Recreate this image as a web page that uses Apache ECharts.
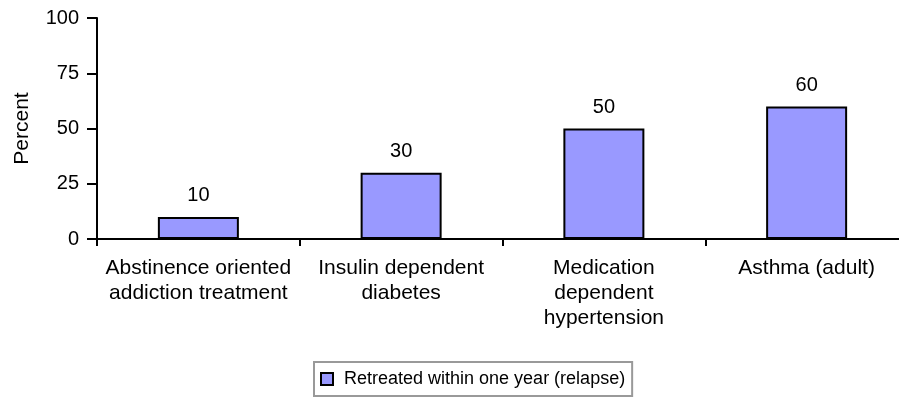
<!DOCTYPE html>
<html>
<head>
<meta charset="utf-8">
<script src="https://cdn.jsdelivr.net/npm/echarts@6/dist/echarts.min.js"></script>
<style>
  html, body { margin: 0; padding: 0; background: #fff; }
  #chart { width: 899px; height: 400px; }
</style>
</head>
<body>
<div id="chart"></div>
<script>
// Treatment categories and the share retreated within one year
const categories = [
  'Abstinence oriented\naddiction treatment',
  'Insulin dependent\ndiabetes',
  'Medication\ndependent\nhypertension',
  'Asthma (adult)'
];
const relapsePercent = [10, 30, 50, 60];
const seriesName = 'Retreated within one year (relapse)';
const yTicks = [0, 25, 50, 75, 100];

const FONT = '"Liberation Sans", Arial, sans-serif';
const chart = echarts.init(document.getElementById('chart'), null, { renderer: 'canvas' });

chart.setOption({
  animation: false,
  backgroundColor: '#ffffff',
  textStyle: { fontFamily: FONT, color: '#000' },
  // the category axis runs a little past the right edge of the canvas
  grid: {
    left: 97, width: 811, top: 18, height: 221,
    containLabel: false,
    outerBoundsMode: 'none'
  },
  legend: {
    data: [seriesName],
    top: 362,
    left: 314,
    padding: [8, 7, 8, 6],
    borderColor: '#999999',
    borderWidth: 2,
    itemWidth: 12,
    itemHeight: 12,
    icon: 'rect',
    textStyle: { fontFamily: FONT, fontSize: 18, color: '#000', padding: [0, 0, 0, 6] }
  },
  xAxis: {
    type: 'category',
    data: categories,
    axisLine: { lineStyle: { color: '#000', width: 2 } },
    axisTick: { show: true, length: 7, lineStyle: { color: '#000', width: 2 } },
    axisLabel: {
      interval: 0,
      margin: 17,
      fontFamily: FONT,
      fontSize: 21,
      lineHeight: 25,
      color: '#000'
    },
    splitLine: { show: false }
  },
  yAxis: {
    type: 'value',
    min: yTicks[0],
    max: yTicks[yTicks.length - 1],
    interval: 25,
    name: 'Percent',
    nameLocation: 'middle',
    nameRotate: 90,
    nameGap: 64,
    nameTextStyle: { fontFamily: FONT, fontSize: 21, color: '#000' },
    axisLine: { show: true, lineStyle: { color: '#000', width: 2 } },
    axisTick: { show: true, length: 10, lineStyle: { color: '#000', width: 2 } },
    axisLabel: { margin: 18, fontFamily: FONT, fontSize: 20, color: '#000' },
    splitLine: { show: false }
  },
  series: [{
    name: seriesName,
    type: 'bar',
    data: relapsePercent,
    barWidth: 81,
    itemStyle: { color: '#9999FF', borderColor: '#000', borderWidth: 2 },
    label: {
      show: true,
      position: 'top',
      distance: 11,
      fontFamily: FONT,
      fontSize: 20,
      color: '#000'
    }
  }]
});
</script>
</body>
</html>
